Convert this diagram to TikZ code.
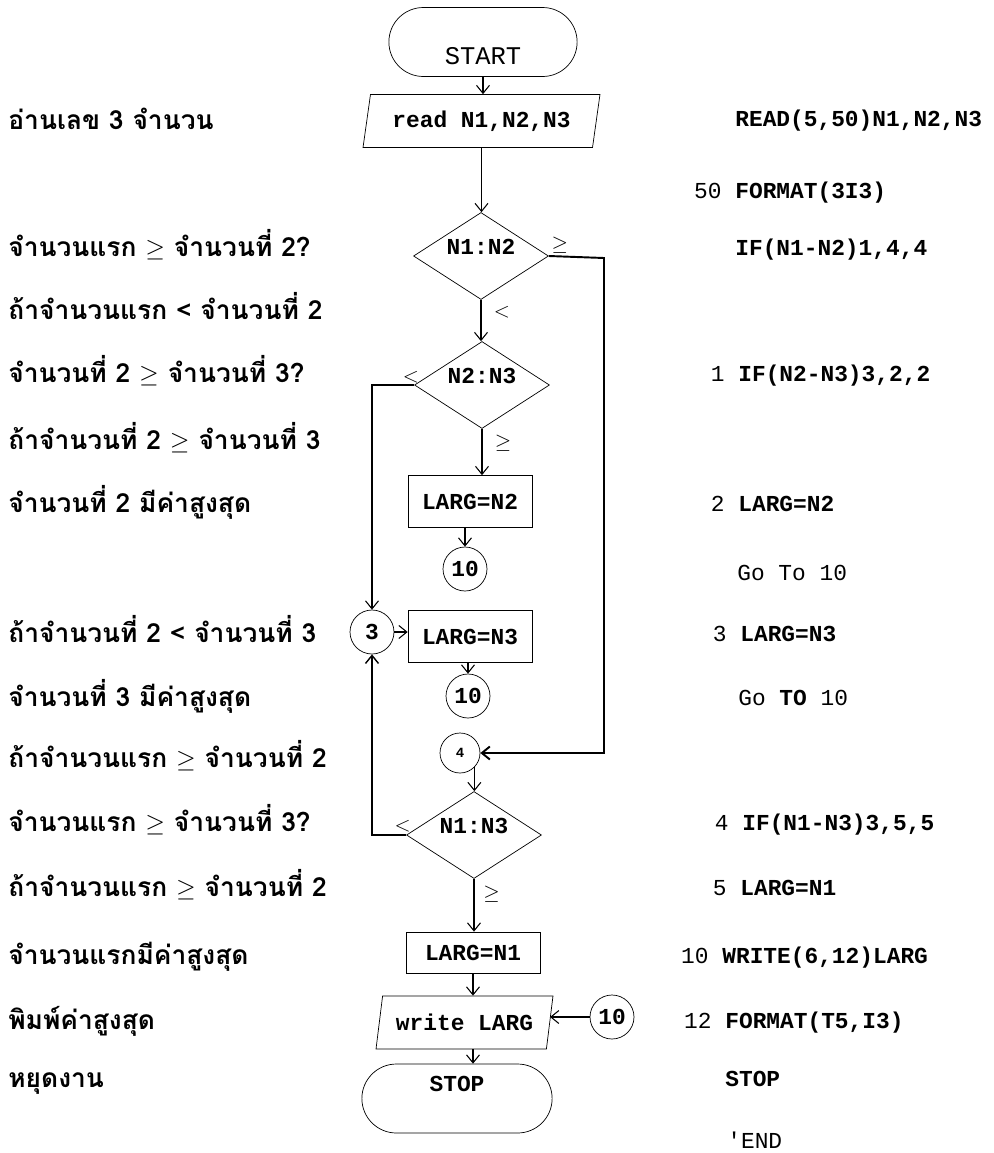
\documentclass[tikz,border=0pt]{standalone}
\usepackage{fontspec}
\setmainfont{Liberation Serif}
\setmonofont{Liberation Mono}
\newfontfamily\thaifont[Script=Thai]{Loma}
\usetikzlibrary{arrows.meta,positioning,calc,shapes.geometric,shapes.misc}
\newcommand\lnum[1]{\llap{\mdseries #1\ }}
\tikzset{
  termbox/.style={draw, rounded rectangle, minimum width=4cm, minimum height=1.38cm,
    font=\ttfamily\bfseries\fontsize{13}{15}\selectfont},
  iobox/.style={draw, trapezium, trapezium left angle=77, trapezium right angle=103,
    trapezium stretches body, minimum height=1.06cm, inner xsep=2pt,
    font=\ttfamily\bfseries\fontsize{13}{15}\selectfont},
  decbox/.style={draw, diamond, aspect=1.5, inner sep=0pt, minimum width=2.7cm,
    minimum height=1.74cm, text height=0.3cm, text depth=0.35cm,
    font=\ttfamily\bfseries\fontsize{13}{15}\selectfont},
  procbox/.style={draw, minimum width=2.48cm, minimum height=1.04cm,
    font=\ttfamily\bfseries\fontsize{13}{15}\selectfont},
  connbox/.style={draw, circle, inner sep=0pt, minimum size=0.88cm,
    font=\ttfamily\bfseries\fontsize{13}{15}\selectfont},
  arrow/.style={-{Straight Barb[length=1.6mm, width=2.6mm]}, line width=0.6pt},
  loopline/.style={arrow, line width=1.1pt},
  sign/.style={inner sep=1pt, font=\fontsize{13}{15}\selectfont},
  thai/.style={anchor=base west, inner sep=0pt, font=\thaifont\bfseries\fontsize{15}{18}\selectfont},
  code/.style={anchor=base west, inner sep=0pt, font=\ttfamily\bfseries\fontsize{13}{15}\selectfont}
}
\begin{document}
\begin{tikzpicture}[x=0.02cm, y=-0.02cm]
  \useasboundingbox (0,0) rectangle (994,1153);

  % flow chart
  \node[termbox, text height=0.9cm, text depth=0cm,
    font=\ttfamily\fontsize{14.5}{16}\selectfont] (start) at (483,42) {START};
  \node[iobox, minimum width=4.74cm] (read) at (481.5,121) {read N1,N2,N3};
  \node[decbox] (d1) at (481,256) {N1:N2};
  \node[decbox] (d2) at (482,385) {N2:N3};
  \node[procbox] (l2) at (470,501.5) {LARG=N2};
  \node[connbox] (c10a) at (465,569) {10};
  \node[connbox] (c3) at (372,632) {3};
  \node[procbox] (l3) at (470,636.5) {LARG=N3};
  \node[connbox] (c10b) at (468,696) {10};
  \node[connbox, minimum size=0.8cm, font=\ttfamily\bfseries\footnotesize] (c4) at (460,753) {4};
  \node[decbox] (d3) at (474,835) {N1:N3};
  \node[procbox, minimum width=2.68cm, minimum height=0.82cm] (l1) at (473,952.5) {LARG=N1};
  \node[iobox, minimum width=3.54cm] (write) at (464.5,1022.5) {write LARG};
  \node[connbox] (c10c) at (612,1017) {10};
  \node[termbox, minimum width=4.04cm, text height=0.3cm, text depth=0.6cm] (stop) at (457,1098.5) {STOP};

  \coordinate (rjoin) at (604,258);

  \draw[arrow] (start.south) -- (start.south |- read.north);
  \draw[arrow] (read.south) -- (read.south |- d1.north);
  \draw[arrow] (d1.south) -- node[sign, right, pos=0.3, xshift=6pt] {$<$} (d1.south |- d2.north);
  \draw[loopline] (d1.east) node[sign, above right] {$\geq$} -- (rjoin) |- (c4.east);
  \draw[arrow] (d2.west) node[sign, above left, xshift=4pt] {$<$} -| (c3.north);
  \draw[arrow] (d2.south) -- node[sign, right, pos=0.3, xshift=6pt] {$\geq$} (d2.south |- l2.north);
  \draw[arrow] (c10a.north |- l2.south) -- (c10a.north);
  \draw[arrow] (c3.east) -- (c3.east -| l3.west);
  \draw[arrow] (c10b.north |- l3.south) -- (c10b.north);
  \draw[arrow] (c4.-45) -- (c4.-45 |- d3.north);
  \draw[loopline, line width=0.8pt] (d3.west) node[sign, above left, xshift=4pt] {$<$} -| (c3.south);
  \draw[arrow] (d3.south) -- node[sign, right, pos=0.3, xshift=4pt] {$\geq$} (d3.south |- l1.north);
  \draw[arrow] (l1.south) -- (l1.south |- write.north);
  \draw[arrow] (c10c.west) -- (c10c.west -| write.east);
  \draw[arrow] (write.south -| l1.south) -- (l1.south |- stop.north);

  % Thai notes
  \foreach \yy/\txt [count=\i] in {
      120/{อ่านเลข 3 จำนวน},
      247/{จำนวนแรก $\geq$ จำนวนที่ 2?},
      310/{ถ้าจำนวนแรก < จำนวนที่ 2},
      373/{จำนวนที่ 2 $\geq$ จำนวนที่ 3?},
      440/{ถ้าจำนวนที่ 2 $\geq$ จำนวนที่ 3},
      503/{จำนวนที่ 2 มีค่าสูงสุด},
      633/{ถ้าจำนวนที่ 2 < จำนวนที่ 3},
      697/{จำนวนที่ 3 มีค่าสูงสุด},
      758/{ถ้าจำนวนแรก $\geq$ จำนวนที่ 2},
      822/{จำนวนแรก $\geq$ จำนวนที่ 3?},
      887/{ถ้าจำนวนแรก $\geq$ จำนวนที่ 2},
      955/{จำนวนแรกมีค่าสูงสุด},
      1020/{พิมพ์ค่าสูงสุด},
      1078/{หยุดงาน}}
    \node[thai] (th\i) at (8,\yy+9) {\txt};

  % FORTRAN source
  \foreach \xx/\yy/\txt [count=\i] in {
      735/118/{READ(5,50)N1,N2,N3},
      735/190/{\lnum{50}FORMAT(3I3)},
      735/247/{IF(N1-N2)1,4,4},
      738/373/{\lnum{1}IF(N2-N3)3,2,2},
      738/503/{\lnum{2}LARG=N2},
      737/572/{\mdseries Go To 10},
      740/633/{\lnum{3}LARG=N3},
      738/697/{\mdseries Go \textbf{TO} 10},
      742/822/{\lnum{4}IF(N1-N3)3,5,5},
      740/887/{\lnum{5}LARG=N1},
      722/955/{\lnum{10}WRITE(6,12)LARG},
      725/1020/{\lnum{12}FORMAT(T5,I3)},
      725/1078/{STOP},
      727/1140/{\mdseries 'END}}
    \node[code] (src\i) at (\xx,\yy+8) {\txt};
\end{tikzpicture}
\end{document}
